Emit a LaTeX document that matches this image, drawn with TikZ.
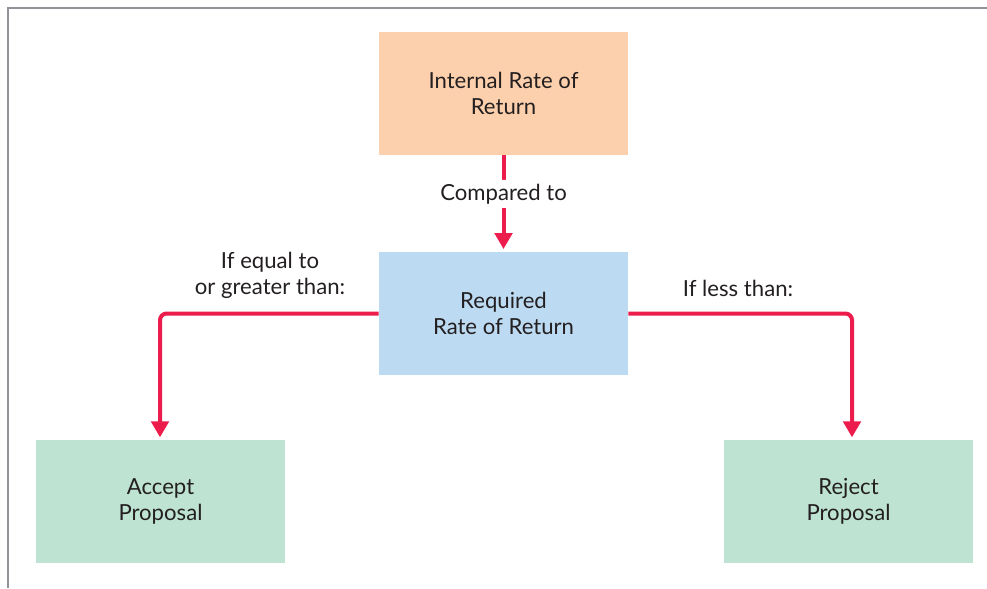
\documentclass[tikz,border=0pt]{standalone}
\usepackage{fontspec}
\setmainfont{Lato}
\usepackage{xcolor}
\usepackage{tikz}
\usetikzlibrary{positioning,arrows.meta,calc}
\definecolor{framegray}{RGB}{146,146,152}
\definecolor{peach}{RGB}{252,208,172}
\definecolor{skyblue}{RGB}{188,218,241}
\definecolor{mint}{RGB}{190,227,211}
\definecolor{flowred}{RGB}{236,28,76}
\definecolor{inkblack}{RGB}{35,31,32}

\begin{document}
\begin{tikzpicture}[x=0.75pt,y=-0.75pt,
  box/.style={minimum width=186.75pt,minimum height=92.25pt,align=center,
    text=inkblack,font=\fontsize{16.6}{19.5}\selectfont,inner sep=0pt},
  lbl/.style={text=inkblack,font=\fontsize{16.6}{19.5}\selectfont,align=center},
  flow/.style={line width=3pt,flowred,rounded corners=5pt,
    -{Triangle[length=12pt,width=13pt]},shorten >=2pt}]
\useasboundingbox (0,0) rectangle (987,588);
% frame
\draw[framegray,line width=1.6pt] (8,588) -- (8,8) -- (987,8);
% boxes
\node[box,fill=peach] (irr) at (503.5,93.5) {Internal Rate of\\Return};
\node[box,fill=skyblue] (rrr) at (503.5,313.5) {Required\\Rate of Return};
\node[box,fill=mint] (accept) at (160.5,501.5) {Accept\\Proposal};
\node[box,fill=mint] (reject) at (848.5,501.5) {Reject\\Proposal};
% arrows
\draw[flow] (irr.south) -- node[lbl,fill=white,inner sep=3pt,pos=0.4] (cmp) {Compared to} (rrr.north);
\draw[flow] (rrr.west) -- (160,313.5) -- (160,440);
\draw[flow] (rrr.east) -- (852,313.5) -- (852,440);
% labels
\node[lbl] (eq) at (270,275) {If equal to\\or greater than:};
\node[lbl] (less) at (738,288) {If less than:};
\end{tikzpicture}
\end{document}
